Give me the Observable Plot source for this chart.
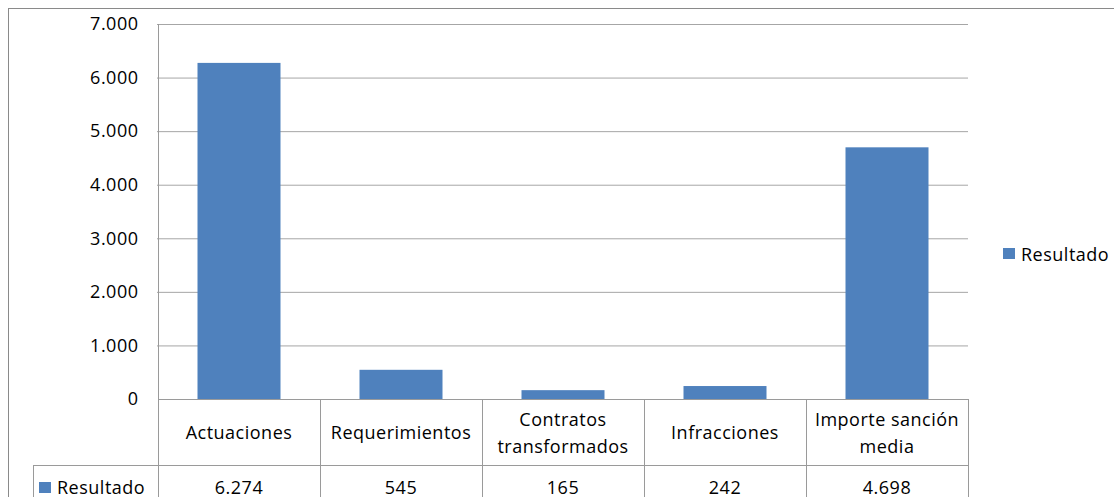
<!DOCTYPE html>
<html><head><meta charset="utf-8">
<script src="https://cdn.jsdelivr.net/npm/d3@7"></script>
<script src="https://cdn.jsdelivr.net/npm/@observablehq/plot@0.6"></script>
<style>
html,body{margin:0;padding:0;background:#fff;overflow:hidden;}
svg text{font-family:"Open Sans",sans-serif;letter-spacing:0.5px;}
</style></head><body><div id="chart"></div>
<script>
const categories = ["Actuaciones", "Requerimientos", "Contratos\ntransformados", "Infracciones", "Importe sanción\nmedia"];
const values = [6274, 545, 165, 242, 4698];
const valueLabels = ["6.274", "545", "165", "242", "4.698"];
const yTicks = [0, 1000, 2000, 3000, 4000, 5000, 6000, 7000];
const seriesName = "Resultado";

const data = categories.map((c, i) => ({category: c, value: values[i]}));
const fmt = d3.formatLocale({decimal: ",", thousands: ".", grouping: [3], currency: ["", "€"]}).format(",d");

const W = 1114, H = 497;
const barColor = "#4F81BD";
const lineColor = "#9a9a9a";

const chart = Plot.plot({
  width: W, height: H,
  marginLeft: 157, marginRight: 146, marginTop: 24, marginBottom: 98,
  style: {fontFamily: '"Open Sans", sans-serif', fontSize: "18px", background: "white", overflow: "visible", color: "#000"},
  x: {domain: categories, padding: 0, axis: null},
  y: {domain: [0, 7000], axis: null},
  marks: [
    Plot.gridY(yTicks.filter(d => d > 0), {stroke: "#a6a6a6", strokeOpacity: 1}),
    Plot.barY(data, {x: "category", y: "value", fill: barColor, insetLeft: 39.5, insetRight: 39.5}),
    Plot.axisY(yTicks, {tickSize: 0, tickPadding: 19, tickFormat: fmt, fontSize: 18, fill: "#000", label: null})
  ]
});
document.getElementById("chart").appendChild(chart);

const svg = d3.select(chart);
const x = chart.scale("x");
const y = chart.scale("y");
const bw = x.bandwidth;
const left = x.apply(categories[0]);
const right = x.apply(categories[categories.length - 1]) + bw;
const y0 = y.apply(0);
const rowH = 66;
const labelLeft = 33;

const g = svg.append("g").attr("stroke", lineColor).attr("stroke-width", 1).attr("fill", "none");
// outer chart border
g.append("rect").attr("x", 8.5).attr("y", 8.5).attr("width", W).attr("height", H).attr("stroke", "#8a8a8a");
// y axis line
g.append("line").attr("x1", left + 0.5).attr("x2", left + 0.5).attr("y1", y.apply(7000)).attr("y2", H);
// header top (zero line)
g.append("line").attr("x1", left).attr("x2", right + 0.5).attr("y1", y0 + 0.5).attr("y2", y0 + 0.5);
// column boundaries
categories.forEach(c => {
  const xr = Math.round(x.apply(c) + bw) + 0.5;
  g.append("line").attr("x1", xr).attr("x2", xr).attr("y1", y0).attr("y2", H);
});
// data row top
g.append("line").attr("x1", labelLeft).attr("x2", right + 0.5).attr("y1", y0 + rowH + 0.5).attr("y2", y0 + rowH + 0.5);
// row label left edge
g.append("line").attr("x1", labelLeft + 0.5).attr("x2", labelLeft + 0.5).attr("y1", y0 + rowH).attr("y2", H);

const tg = svg.append("g").attr("fill", "#000").attr("font-size", 18).attr("text-anchor", "start");
categories.forEach((c, i) => {
  const cx = x.apply(c) + bw / 2;
  const lines = c.split("\n");
  const lh = 27;
  const cy = y0 + rowH / 2;
  lines.forEach((ln, j) => {
    tg.append("text").attr("x", cx).attr("y", cy + (j - (lines.length - 1) / 2) * lh)
      .attr("text-anchor", "middle").attr("dominant-baseline", "central").text(ln);
  });
  tg.append("text").attr("x", cx).attr("y", y0 + rowH + 29).attr("text-anchor", "middle").text(valueLabels[i]);
});
// data row label with key
svg.append("rect").attr("x", 39).attr("y", 482).attr("width", 12).attr("height", 11).attr("fill", barColor);
tg.append("text").attr("x", 57).attr("y", y0 + rowH + 29).attr("text-anchor", "start").text(seriesName);

// legend
svg.append("rect").attr("x", 1003).attr("y", 248).attr("width", 12).attr("height", 11).attr("fill", barColor);
tg.append("text").attr("x", 1021).attr("y", 254).attr("text-anchor", "start").attr("dominant-baseline", "central").text(seriesName);
</script></body></html>
